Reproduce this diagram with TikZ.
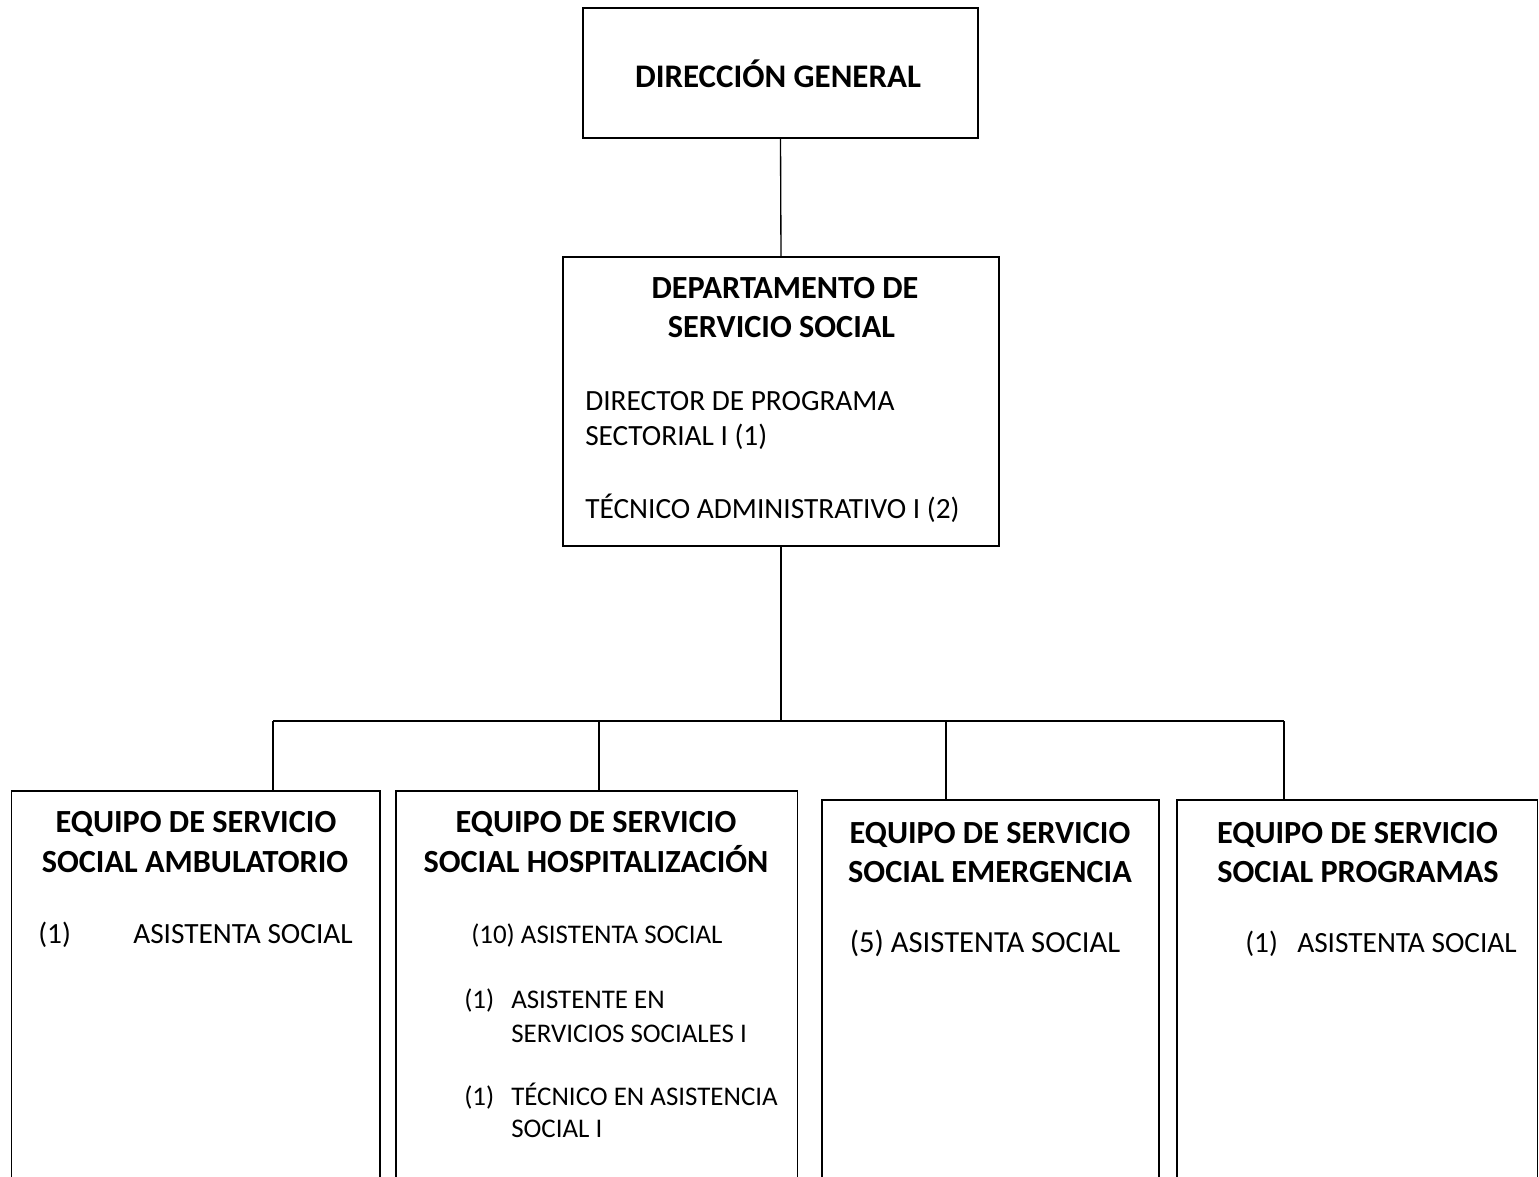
\documentclass[tikz,border=0pt]{standalone}
\usepackage{fontspec}
\setmainfont{Carlito}
\newcommand\fsz{\fontsize{22}{27}\selectfont}
\newcommand\fszb{\fontsize{24.2}{29}\selectfont}
\newcommand\fszs{\fontsize{20.2}{25}\selectfont}
\tikzset{
  box/.style={draw, line width=1.3pt, rectangle, inner sep=0pt},
  wh/.style 2 args={minimum width=#1*0.75pt, minimum height=#2*0.75pt},
  conn/.style={line width=1pt},
  ttl/.style={font=\bfseries\fszb, anchor=base, inner sep=0pt},
  bdy/.style={font=\fsz, anchor=base west, inner sep=0pt},
  bdys/.style={font=\fszs, anchor=base west, inner sep=0pt},
}
\begin{document}
\begin{tikzpicture}[x=0.75pt,y=-0.75pt]
\clip (0,0) rectangle (1539,1177);
\fill[white] (0,0) rectangle (1539,1177);
% boxes
\node[box, wh={395}{130}] (top) at (780.5,73) {};
\node[box, wh={436}{289}] (dept) at (781,401.5) {};
\node[box, wh={368.5}{420}] (b1) at (195.75,1001) {};
\node[box, wh={401.5}{420}] (b2) at (596.75,1001) {};
\node[box, wh={337}{410}] (b3) at (990.5,1005) {};
\node[box, wh={360.5}{410}] (b4) at (1357.25,1005) {};
% connectors
\coordinate (hub) at (781,721);
\coordinate (j1) at (273,721);
\coordinate (j2) at (599,721);
\coordinate (j3) at (946,721);
\coordinate (j4) at (1284,721);
\draw[conn] (top.south) -- (dept.north);
\draw[conn] (dept.south) -- (hub);
\draw[conn] (j1) -- (j4);
\draw[conn] (j1) -- (j1 |- b1.north);
\draw[conn] (j2) -- (j2 |- b2.north);
\draw[conn] (j3) -- (j3 |- b3.north);
\draw[conn] (j4) -- (j4 |- b4.north);
% texts
\node[ttl, font=\bfseries\fontsize{24.7}{29}\selectfont] (t0) at (778,88) {DIRECCIÓN GENERAL};
\node[ttl] (d1) at (785,298) {DEPARTAMENTO DE};
\node[ttl] (d2) at (781.5,337) {SERVICIO SOCIAL};
\node[bdy] (d3) at (585,410) {DIRECTOR DE PROGRAMA};
\node[bdy] (d4) at (585,445) {SECTORIAL I (1)};
\node[bdy] (d5) at (585,518) {TÉCNICO ADMINISTRATIVO I (2)};
% box 1
\node[ttl] (a1) at (196,832) {EQUIPO DE SERVICIO};
\node[ttl] (a2) at (195,872) {SOCIAL AMBULATORIO};
\node[bdy] (a3) at (38,943) {(1)};
\node[bdy] (a4) at (133,943) {ASISTENTA SOCIAL};
% box 2
\node[ttl] (h1) at (596,832) {EQUIPO DE SERVICIO};
\node[ttl] (h2) at (596,872) {SOCIAL HOSPITALIZACIÓN};
\node[bdys] (h3) at (471,943) {(10) ASISTENTA SOCIAL};
\node[bdys] (h4) at (464,1008) {(1)};
\node[bdys] (h5) at (511,1008) {ASISTENTE EN};
\node[bdys] (h6) at (511,1042) {SERVICIOS SOCIALES I};
\node[bdys] (h7) at (464,1105) {(1)};
\node[bdys] (h8) at (511,1105) {TÉCNICO EN ASISTENCIA};
\node[bdys] (h9) at (511,1137) {SOCIAL I};
% box 3
\node[ttl] (e1) at (990,843) {EQUIPO DE SERVICIO};
\node[ttl] (e2) at (990,882) {SOCIAL EMERGENCIA};
\node[bdy, font=\fontsize{23}{27}\selectfont] (e3) at (849.5,952) {(5) ASISTENTA SOCIAL};
% box 4
\node[ttl] (p1) at (1357.5,843) {EQUIPO DE SERVICIO};
\node[ttl] (p2) at (1358,882) {SOCIAL PROGRAMAS};
\node[bdy] (p3) at (1245,952) {(1)};
\node[bdy] (p4) at (1297,952) {ASISTENTA SOCIAL};
\end{tikzpicture}
\end{document}
